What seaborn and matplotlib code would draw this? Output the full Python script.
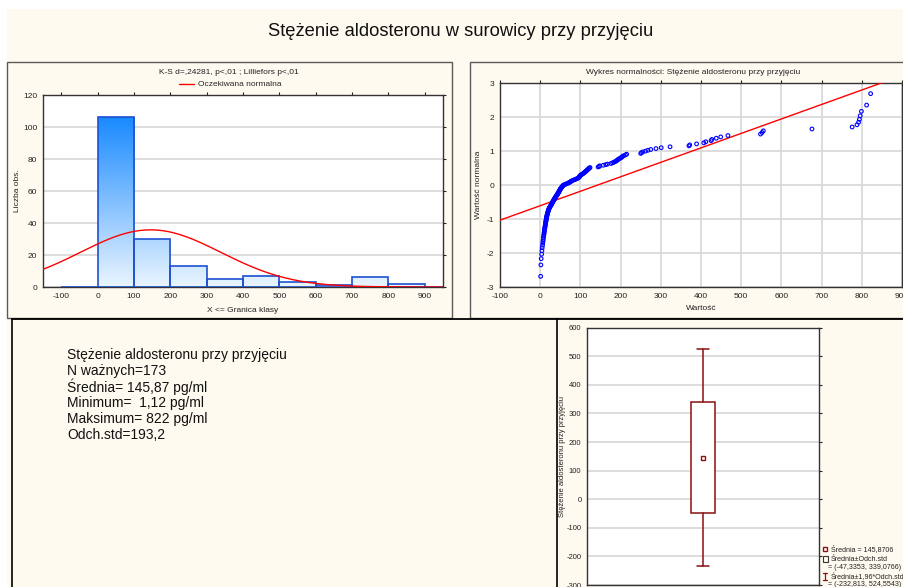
import numpy as np
import matplotlib
matplotlib.use("Agg")
import matplotlib.pyplot as plt
import seaborn as sns
from matplotlib.colors import LinearSegmentedColormap
from matplotlib.patches import Rectangle
from matplotlib.lines import Line2D
from statistics import NormalDist

# Aldosterone concentration on admission [pg/ml], sorted ascending (N = 173)
aldosteron = [
    1.12, 1.7, 2.5, 3.5, 4.3, 5.0, 5.8, 6.4, 7.0, 7.6,
    8.1, 8.6, 9.2, 9.6, 10.1, 10.5, 11.0, 11.4, 11.8, 12.2,
    12.6, 13.0, 13.4, 13.7, 14.1, 14.4, 14.8, 15.1, 15.5, 15.9,
    16.3, 16.7, 17.1, 17.5, 18.0, 18.5, 19.0, 19.5, 20.0, 20.6,
    21.1, 21.6, 22.1, 23.0, 23.9, 24.8, 25.7, 26.5, 27.3, 28.1,
    28.9, 29.7, 30.4, 31.2, 32.0, 32.7, 33.5, 34.3, 35.0, 35.7,
    36.5, 37.4, 38.3, 39.1, 40.0, 40.8, 41.7, 42.5, 43.3, 44.1,
    44.9, 45.5, 46.2, 46.9, 47.6, 48.3, 49.0, 49.6, 50.3, 51.0,
    52, 53, 54, 55, 56, 57, 58, 61, 64, 67,
    70, 72, 74, 76, 78, 80, 83, 86, 89, 92,
    94, 96, 97, 98, 99, 99.5,
    101, 103, 105, 107, 109, 110, 112, 113, 115, 116, 118, 119, 121, 122, 124,
    144, 147, 148, 157, 163, 167, 176, 180, 183, 186, 189, 191, 193, 195, 198,
    201, 203, 205, 208, 212, 215, 250, 252, 255, 262, 268, 275, 288,
    301, 323, 370, 372, 389,
    407, 412, 425, 427, 438, 449, 467,
    548, 552, 555,
    676,
    776, 788, 792, 794, 796, 799,
    812, 822,
]

# descriptive statistics
n_valid = 173
mean_val = 145.87
sd_val = 193.2
box_mean = 145.8706
box_sd_range = [-47.3353, 339.0766]
box_196_range = [-232.813, 524.5543]

hist_edges = list(range(-100, 1001, 100))
hist_xticks = list(range(-100, 901, 100))
hist_yticks = [0, 20, 40, 60, 80, 100, 120]
prob_xticks = list(range(-100, 901, 100))
prob_yticks = [-3, -2, -1, 0, 1, 2, 3]
box_yticks = list(range(-300, 601, 100))

main_title = "Stężenie aldosteronu w surowicy przy przyjęciu"
hist_title = "K-S d=,24281, p<,01 ; Lilliefors p<,01"
prob_title = "Wykres normalności: Stężenie aldosteronu przy przyjęciu"
var_label = "Stężenie aldosteronu przy przyjęciu"
summary_lines = [
    "Stężenie aldosteronu przy przyjęciu",
    "N ważnych=173",
    "Średnia= 145,87 pg/ml",
    "Minimum=  1,12 pg/ml",
    "Maksimum= 822 pg/ml",
    "Odch.std=193,2",
]
legend_lines = [
    "Średnia = 145,8706",
    "Średnia±Odch.std",
    "= (-47,3353, 339,0766)",
    "Średnia±1,96*Odch.std",
    "= (-232,813, 524,5543)",
]

sns.set_theme(style="white")
plt.rcParams["font.family"] = ["Liberation Sans", "DejaVu Sans"]
plt.rcParams["axes.unicode_minus"] = False

CREAM = "#FFFAF0"
GRID = "#DADADA"
MAROON = "#8B1010"
TICK = 6

W, H = 904, 587
fig = plt.figure(figsize=(W / 100, H / 100), dpi=100)
fig.patch.set_facecolor("white")


def fx(px):
    return px / W


def fy(py):
    return 1 - py / H


def axes_px(left, top, right, bottom):
    return fig.add_axes([left / W, 1 - bottom / H, (right - left) / W, (bottom - top) / H])


def fig_line(xs, ys, **kw):
    fig.add_artist(Line2D([fx(v) for v in xs], [fy(v) for v in ys],
                          transform=fig.transFigure, **kw))


# page background and panel frames
fig.add_artist(Rectangle((fx(7), 0), 1 - fx(7), fy(9), transform=fig.transFigure,
                         facecolor=CREAM, edgecolor="none", zorder=-10))
fig.add_artist(Rectangle((fx(7), fy(318)), fx(452) - fx(7), fy(62) - fy(318),
                         transform=fig.transFigure, fill=False, edgecolor="#5a5a5a", lw=1))
fig.add_artist(Rectangle((fx(470), fy(318)), fx(920) - fx(470), fy(62) - fy(318),
                         transform=fig.transFigure, fill=False, edgecolor="#5a5a5a", lw=1))
fig_line([12.5, 904], [318.5, 318.5], color="black", lw=1.3)
fig_line([12.5, 12.5], [318.5, 590], color="black", lw=1.2)
fig_line([557, 557], [318.5, 590], color="black", lw=1.2)

fig.text(fx(461), fy(32), main_title, ha="center", va="center", fontsize=13.2, color="#111111")


def style_axes(ax):
    ax.set_facecolor("white")
    for s in ax.spines.values():
        s.set_color("#333333")
        s.set_linewidth(1.0)
    ax.tick_params(axis="both", which="major", labelsize=TICK, colors="#222222",
                   direction="out", length=2.5, width=0.8, pad=1.5)
    ax.tick_params(top=True, right=True, labeltop=False, labelright=False)


# ---------------- histogram with expected normal curve ----------------
ax1 = axes_px(43, 95, 443, 287)
style_axes(ax1)
sns.histplot(x=aldosteron, bins=hist_edges, ax=ax1, stat="count",
             color="#1E8CFF", edgecolor="#1E50D0", linewidth=1.2, alpha=1)
bars = list(ax1.patches)
max_h = max(p.get_height() for p in bars)
grad = LinearSegmentedColormap.from_list("bar_grad", ["#EAF5FE", "#1A8AFF"])
for p in bars:
    h = p.get_height()
    x0, w = p.get_x(), p.get_width()
    p.set_facecolor("none")
    p.set_zorder(3)
    if h > 0:
        col = np.linspace(0, h / max_h, 200).reshape(-1, 1)
        ax1.imshow(col, extent=(x0, x0 + w, 0, h), origin="lower", cmap=grad,
                   vmin=0, vmax=1, aspect="auto", zorder=2, interpolation="bilinear")

xs = np.linspace(-150, 950, 500)
dist = NormalDist(mean_val, sd_val)
expected = [n_valid * 100 * dist.pdf(v) for v in xs]
sns.lineplot(x=xs, y=expected, ax=ax1, color="#FF0000", lw=1, zorder=4,
             label="Oczekiwana normalna")
ax1.set_xlim(-150, 950)
ax1.set_ylim(0, 120)
ax1.set_xticks(hist_xticks)
ax1.set_yticks(hist_yticks)
ax1.yaxis.grid(True, color=GRID, lw=1.3)
ax1.set_axisbelow(True)
ax1.set_ylabel("Liczba obs.", fontsize=TICK, color="#222222")
ax1.set_xlabel("X <= Granica klasy", fontsize=TICK, color="#222222")
ax1.yaxis.set_label_coords((18 - 43) / 400, 0.5)
ax1.yaxis.label.set_va("center")
ax1.xaxis.set_label_coords(0.5, -(310 - 287) / 192)
ax1.xaxis.label.set_va("center")
ax1.legend(loc="center", bbox_to_anchor=(fx(230), fy(84.5)), bbox_transform=fig.transFigure,
           frameon=False, fontsize=TICK, handlelength=1.8, handletextpad=0.5, borderpad=0)
fig.text(fx(229), fy(73), hist_title, ha="center", va="center", fontsize=TICK, color="#222222")

# ---------------- normal probability plot ----------------
ax2 = axes_px(500, 83, 902, 287)
style_axes(ax2)
n = len(aldosteron)
std_norm = NormalDist()
z_scores = [std_norm.inv_cdf((i - 0.375) / (n + 0.25)) for i in range(1, n + 1)]
slope, intercept = np.polyfit(aldosteron, z_scores, 1)
line_x = np.array([-100, 900])
sns.lineplot(x=line_x, y=slope * line_x + intercept, ax=ax2, color="#FF0000", lw=1, zorder=3)
sns.scatterplot(x=aldosteron, y=z_scores, ax=ax2, marker="o", s=7, zorder=4)
for coll in ax2.collections:
    coll.set_facecolor("none")
    coll.set_edgecolor("#0000FF")
    coll.set_linewidth(0.8)
ax2.set_xlim(-100, 900)
ax2.set_ylim(-3, 3)
ax2.set_xticks(prob_xticks)
ax2.set_yticks(prob_yticks)
ax2.grid(True, color=GRID, lw=1.3)
ax2.set_axisbelow(True)
ax2.set_ylabel("Wartość normalna", fontsize=TICK, color="#222222")
ax2.set_xlabel("Wartość", fontsize=TICK, color="#222222")
ax2.yaxis.set_label_coords((479 - 500) / 402, 0.5)
ax2.yaxis.label.set_va("center")
ax2.xaxis.set_label_coords(0.5, -(309 - 287) / 204)
ax2.xaxis.label.set_va("center")
fig.text(fx(693), fy(72.5), prob_title, ha="center", va="center", fontsize=TICK, color="#222222")

# ---------------- summary text ----------------
for k, line in enumerate(summary_lines):
    fig.text(fx(67), fy(355 + 16 * k), line, ha="left", va="center", fontsize=10, color="#111111")

# ---------------- mean / sd box plot ----------------
ax3 = axes_px(587, 327.7, 819, 585)
style_axes(ax3)
stats = [dict(med=box_mean, mean=box_mean, q1=box_sd_range[0], q3=box_sd_range[1],
              whislo=box_196_range[0], whishi=box_196_range[1], fliers=[])]
ax3.bxp(stats, positions=[0], widths=0.103, capwidths=0.052, showmeans=True,
        showfliers=False, patch_artist=True,
        boxprops=dict(facecolor="white", edgecolor=MAROON, lw=1.1),
        whiskerprops=dict(color=MAROON, lw=1.1),
        capprops=dict(color=MAROON, lw=1.1),
        medianprops=dict(lw=0),
        meanprops=dict(marker="s", markersize=3, markerfacecolor="white",
                       markeredgecolor=MAROON, markeredgewidth=1))
ax3.set_xlim(-0.5, 0.5)
ax3.set_ylim(-300, 600)
ax3.set_yticks(box_yticks)
ax3.set_xticks([])
ax3.tick_params(axis="y", labelsize=5.5)
ax3.yaxis.grid(True, color=GRID, lw=1.3)
ax3.set_axisbelow(True)
ax3.set_ylabel(var_label, fontsize=5.5, color="#222222")
ax3.yaxis.set_label_coords((563 - 587) / 232, 0.5)
ax3.yaxis.label.set_va("center")

# legend of the box plot, beside the axes
leg_y = [549.3, 559.3, 567.5, 576.5, 584.5]
leg_x = [831, 831, 828.5, 831, 828.5]
for y, x, t in zip(leg_y, leg_x, legend_lines):
    fig.text(fx(x), fy(y), t, ha="left", va="center", fontsize=5.1, color="#222222")
fig.add_artist(Line2D([fx(825.5)], [fy(549.3)], transform=fig.transFigure, marker="s",
                      markersize=2.6, markerfacecolor="white", markeredgecolor=MAROON,
                      markeredgewidth=1))
fig.add_artist(Rectangle((fx(823), fy(562)), fx(828) - fx(823), fy(556) - fy(562),
                         transform=fig.transFigure, fill=False, edgecolor="#333333", lw=0.8))
fig_line([825.5, 825.5], [573, 580], color=MAROON, lw=0.9)
fig_line([823.5, 827.5], [573, 573], color=MAROON, lw=0.9)
fig_line([823.5, 827.5], [580, 580], color=MAROON, lw=0.9)

fig.savefig("out.png", dpi=100, facecolor=fig.get_facecolor())
